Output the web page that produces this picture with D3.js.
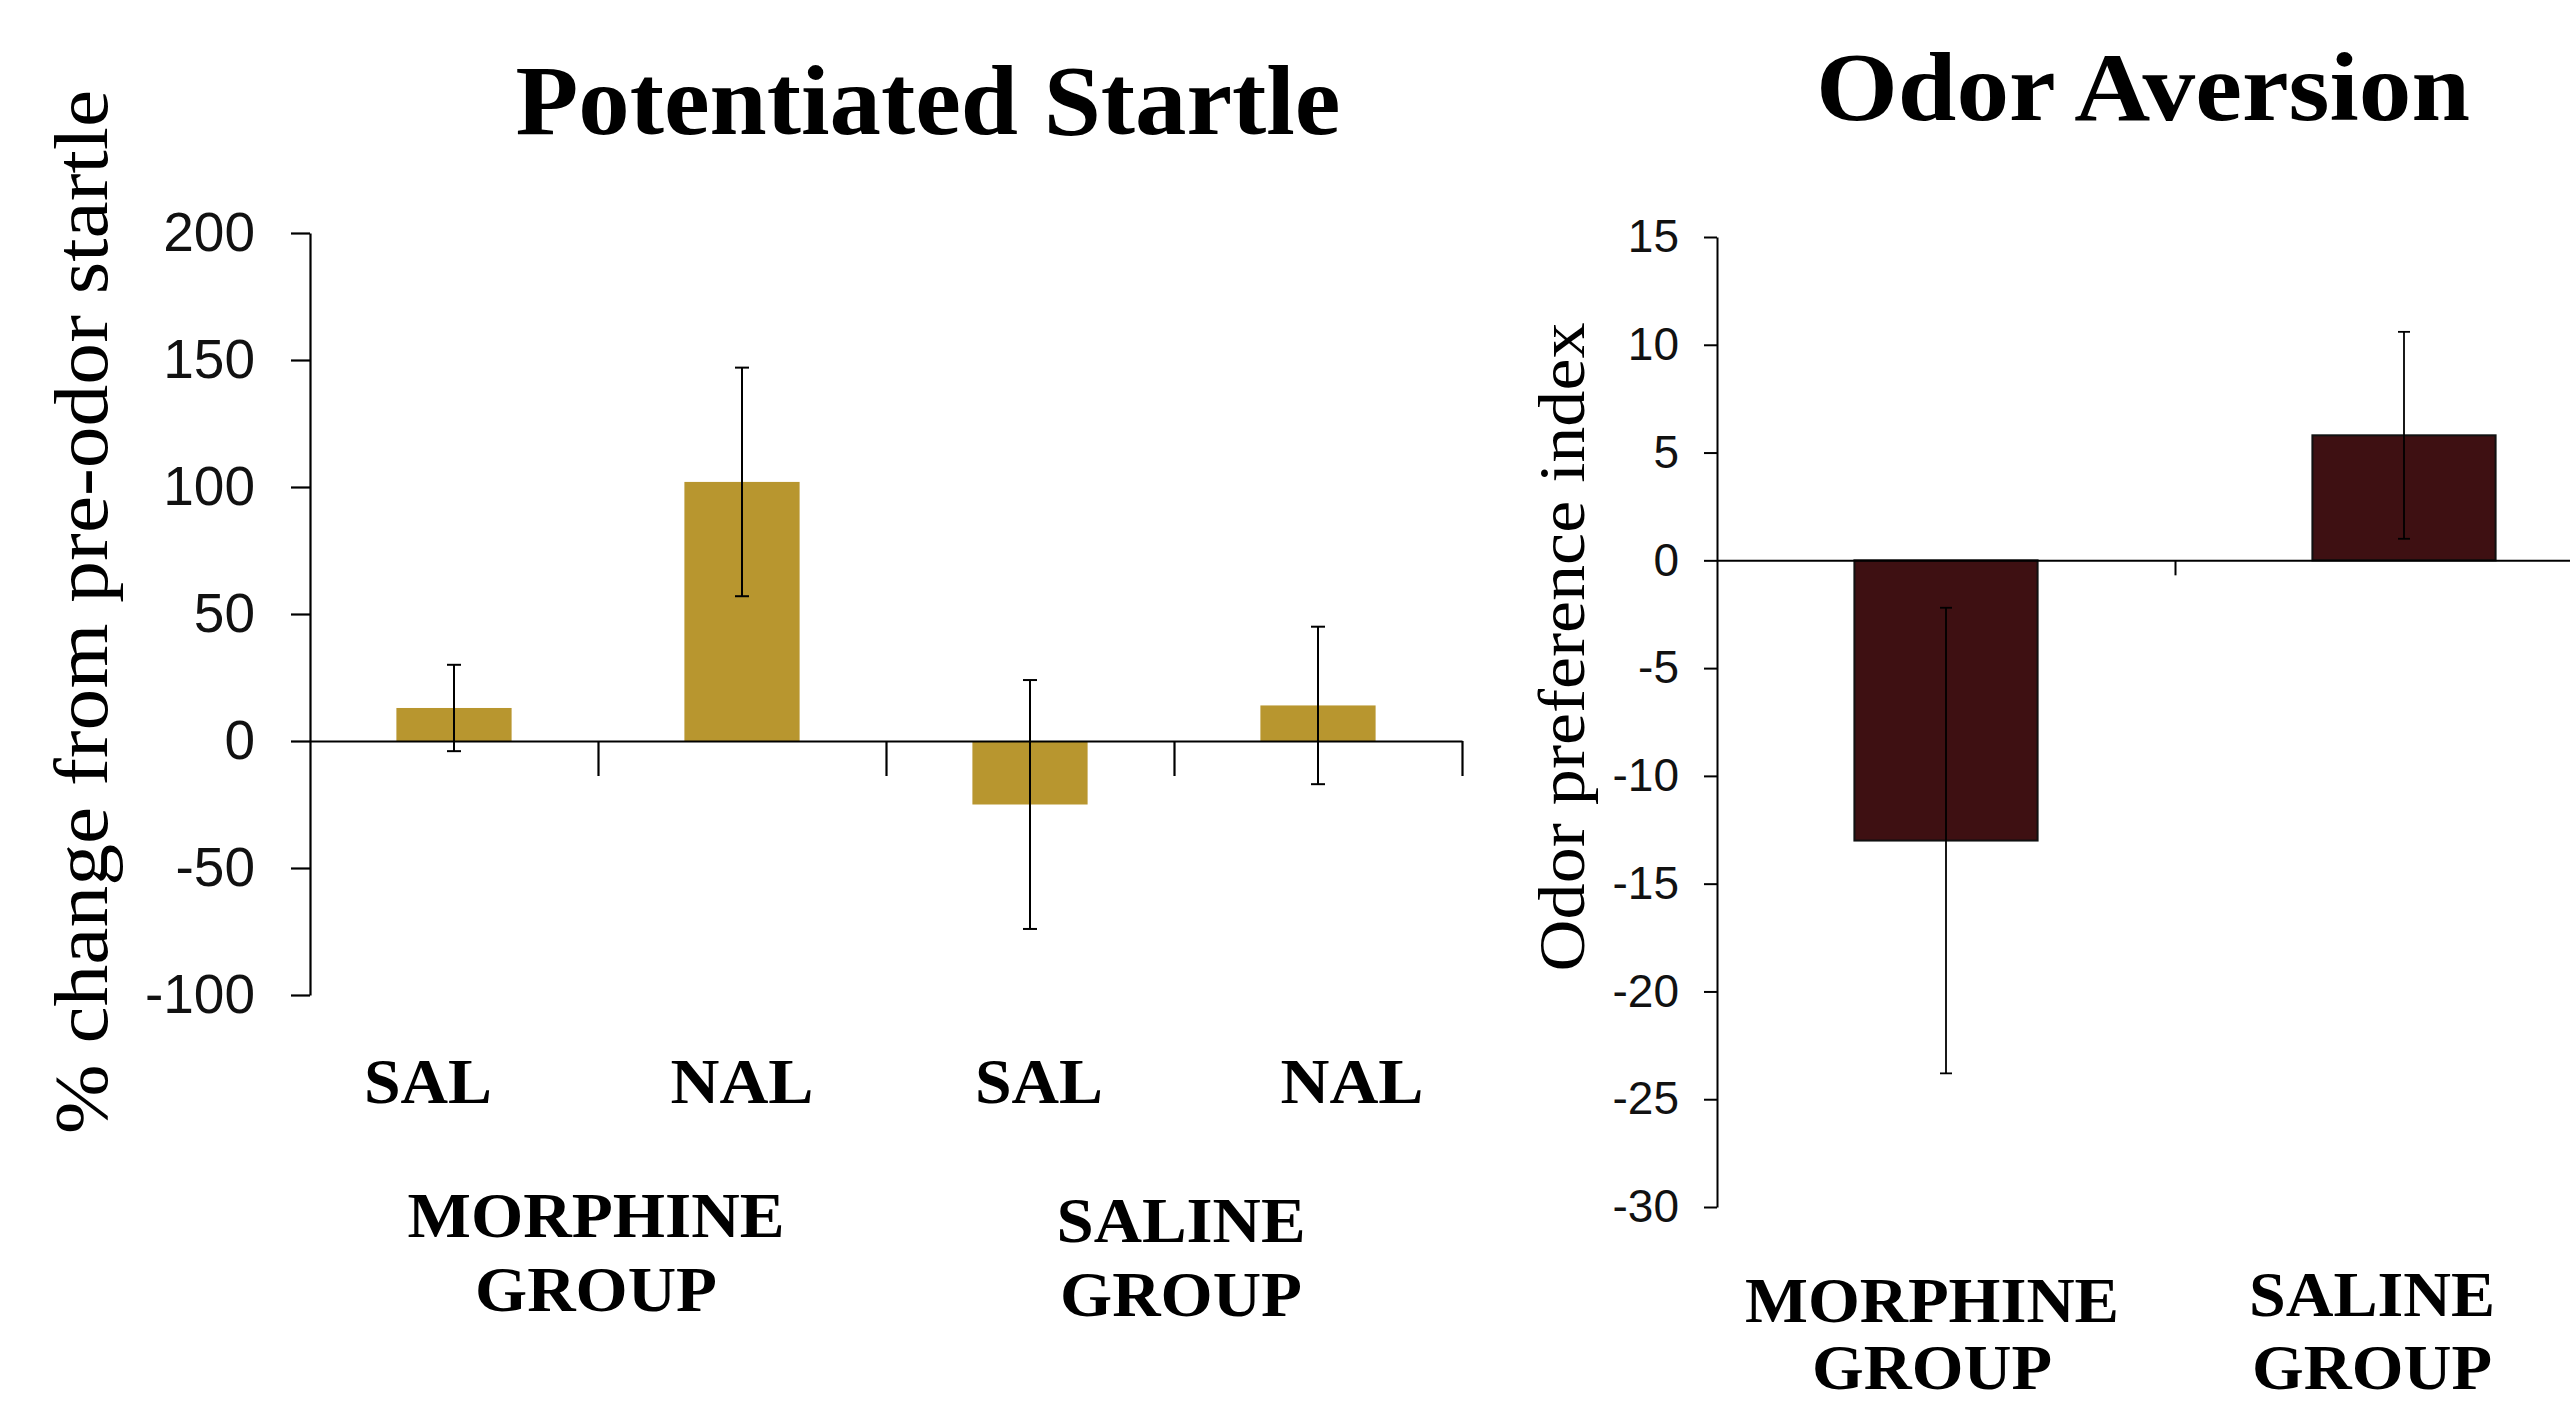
<!DOCTYPE html>
<html>
<head>
<meta charset="utf-8">
<script src="https://cdn.jsdelivr.net/npm/d3@7"></script>
<style>
  html, body { margin: 0; padding: 0; background: #fff; }
  svg { display: block; }
  .serif { font-family: "Liberation Serif", "DejaVu Serif", serif; fill: #000; }
  .sans { font-family: "Liberation Sans", Arial, sans-serif; }
</style>
</head>
<body>
<svg id="fig" width="2570" height="1405"></svg>
<script>
// ---- Potentiated startle (left panel) ----
const startleConditions = ["MOR-SAL", "MOR-NAL", "SAL-SAL", "SAL-NAL"];
const startleDrugLabels = ["SAL", "NAL", "SAL", "NAL"];
const startleMeans = [13, 102, -25, 14];
const startleErrors = [17, 45, 49, 31];
const startleTicks = [-100, -50, 0, 50, 100, 150, 200];
const startleGroups = ["MORPHINE", "SALINE"];

// ---- Odor aversion (right panel) ----
const aversionGroups = ["MORPHINE", "SALINE"];
const aversionMeans = [-13, 5.8];
const aversionErrors = [10.8, 4.8];
const aversionTicks = [-30, -25, -20, -15, -10, -5, 0, 5, 10, 15];

const svg = d3.select("#fig");
const fmt = d => String(d);

function serifText(g, str, x, y, size, weight, length) {
  const t = g.append("text")
    .attr("class", "serif")
    .attr("x", x).attr("y", y)
    .attr("text-anchor", "middle")
    .attr("font-size", size)
    .attr("font-weight", weight)
    .text(str);
  if (length) t.attr("textLength", length).attr("lengthAdjust", "spacingAndGlyphs");
  return t;
}

// ================= Left panel =================
(function () {
  const g = svg.append("g");
  const y = d3.scaleLinear().domain([-100, 200]).range([995, 233]);
  const x = d3.scaleBand().domain(startleConditions).range([310, 1462])
    .paddingInner(0.6).paddingOuter(0.3);
  const slot = d3.scaleLinear().domain([0, startleConditions.length]).range([310, 1462]);
  // hand-placed label nudges (px) relative to each bar's centre
  const labelNudge = [-26, 0, 9, 34];

  // bars
  g.selectAll("rect.bar").data(startleConditions).join("rect")
    .attr("class", "bar")
    .attr("x", d => x(d))
    .attr("width", x.bandwidth())
    .attr("y", (d, i) => y(Math.max(0, startleMeans[i])))
    .attr("height", (d, i) => Math.abs(y(startleMeans[i]) - y(0)))
    .attr("fill", "#B8962F");

  // x axis at zero with separator ticks between conditions
  const xAxis = d3.axisBottom(slot)
    .tickValues(d3.range(1, startleConditions.length + 1))
    .tickSize(35).tickSizeOuter(0).tickFormat("");
  const xa = g.append("g").attr("transform", `translate(0,${y(0)})`).call(xAxis);
  xa.selectAll("path, line").attr("stroke", "#000").attr("stroke-width", 2.2);

  // y axis
  const yAxis = d3.axisLeft(y).tickValues(startleTicks).tickFormat(fmt)
    .tickSize(19).tickSizeOuter(0).tickPadding(36);
  const ya = g.append("g").attr("transform", "translate(310,0)").call(yAxis);
  ya.selectAll("path, line").attr("stroke", "#000").attr("stroke-width", 2.2);
  ya.selectAll("text").attr("class", "sans").attr("font-size", 55).attr("fill", "#111");

  // error bars
  const eb = g.selectAll("g.err").data(startleConditions).join("g").attr("class", "err");
  const cx = d => x(d) + x.bandwidth() / 2;
  eb.append("line")
    .attr("x1", cx).attr("x2", cx)
    .attr("y1", (d, i) => y(startleMeans[i] + startleErrors[i]))
    .attr("y2", (d, i) => y(startleMeans[i] - startleErrors[i]));
  [1, -1].forEach(s => {
    eb.append("line")
      .attr("x1", d => cx(d) - 7).attr("x2", d => cx(d) + 7)
      .attr("y1", (d, i) => y(startleMeans[i] + s * startleErrors[i]))
      .attr("y2", (d, i) => y(startleMeans[i] + s * startleErrors[i]));
  });
  eb.selectAll("line").attr("stroke", "#000").attr("stroke-width", 2);

  // condition labels
  startleConditions.forEach((c, i) => {
    serifText(g, startleDrugLabels[i], cx(c) + labelNudge[i], 1103, 64, "bold", i % 2 ? 143 : 128);
  });

  // group labels
  startleGroups.forEach((grp, k) => {
    const mid = slot(2 * k + 1) + (k ? 7 : -2);
    const base = k ? 1242 : 1237;
    serifText(g, grp, mid, base, 64, "bold", grp === "MORPHINE" ? 377 : 249);
    serifText(g, "GROUP", mid, base + 74, 64, "bold", 242);
  });

  // title and axis title
  serifText(g, "Potentiated Startle", 928, 134, 100, "bold", 825);
  g.append("text").attr("class", "serif")
    .attr("transform", "translate(107,612) rotate(-90)")
    .attr("text-anchor", "middle").attr("font-size", 76)
    .attr("textLength", 1044).attr("lengthAdjust", "spacingAndGlyphs")
    .text("% change from pre-odor startle");
})();

// ================= Right panel =================
(function () {
  const g = svg.append("g");
  const y = d3.scaleLinear().domain([-30, 15]).range([1207, 237]);
  const x = d3.scaleBand().domain(aversionGroups).range([1717, 2633])
    .paddingInner(0.6).paddingOuter(0.3);
  const slot = d3.scaleLinear().domain([0, aversionGroups.length]).range([1717, 2633]);
  const labelNudge = [-14, -32];

  g.selectAll("rect.bar").data(aversionGroups).join("rect")
    .attr("class", "bar")
    .attr("x", d => x(d))
    .attr("width", x.bandwidth())
    .attr("y", (d, i) => y(Math.max(0, aversionMeans[i])))
    .attr("height", (d, i) => Math.abs(y(aversionMeans[i]) - y(0)))
    .attr("fill", "#3E1012")
    .attr("stroke", "#111").attr("stroke-width", 2);

  const xAxis = d3.axisBottom(slot).tickValues([1])
    .tickSize(15).tickSizeOuter(0).tickFormat("");
  const xa = g.append("g").attr("transform", `translate(0,${y(0)})`).call(xAxis);
  xa.selectAll("path, line").attr("stroke", "#000").attr("stroke-width", 2);

  const yAxis = d3.axisLeft(y).tickValues(aversionTicks).tickFormat(fmt)
    .tickSize(13).tickSizeOuter(0).tickPadding(25);
  const ya = g.append("g").attr("transform", "translate(1717,0)").call(yAxis);
  ya.selectAll("path, line").attr("stroke", "#000").attr("stroke-width", 2);
  ya.selectAll("text").attr("class", "sans").attr("font-size", 46).attr("fill", "#111");

  const cx = d => x(d) + x.bandwidth() / 2;
  const eb = g.selectAll("g.err").data(aversionGroups).join("g").attr("class", "err");
  eb.append("line")
    .attr("x1", cx).attr("x2", cx)
    .attr("y1", (d, i) => y(aversionMeans[i] + aversionErrors[i]))
    .attr("y2", (d, i) => y(aversionMeans[i] - aversionErrors[i]));
  [1, -1].forEach(s => {
    eb.append("line")
      .attr("x1", d => cx(d) - 6).attr("x2", d => cx(d) + 6)
      .attr("y1", (d, i) => y(aversionMeans[i] + s * aversionErrors[i]))
      .attr("y2", (d, i) => y(aversionMeans[i] + s * aversionErrors[i]));
  });
  eb.selectAll("line").attr("stroke", "#000").attr("stroke-width", 1.8);

  aversionGroups.forEach((grp, k) => {
    const c = cx(grp) + labelNudge[k];
    const top = grp === "MORPHINE" ? 1322 : 1316;
    serifText(g, grp, c, top, 64, "bold", grp === "MORPHINE" ? 374 : 246);
    serifText(g, "GROUP", c, Math.min(top + 75, 1389), 64, "bold", 240);
  });

  serifText(g, "Odor Aversion", 2143, 120, 97, "bold", 654);
  g.append("text").attr("class", "serif")
    .attr("transform", "translate(1584,647) rotate(-90)")
    .attr("text-anchor", "middle").attr("font-size", 66)
    .attr("textLength", 649).attr("lengthAdjust", "spacingAndGlyphs")
    .text("Odor preference index");
})();
</script>
</body>
</html>
